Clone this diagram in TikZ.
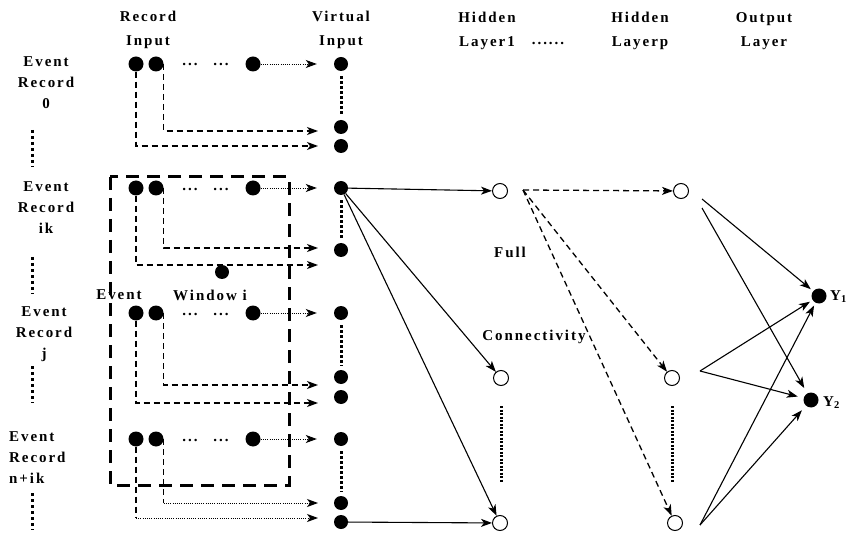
\documentclass[tikz,border=0pt]{standalone}
\usepackage{fontspec}
\setmainfont{Liberation Serif}[LetterSpace=13]
\usetikzlibrary{arrows.meta}
\begin{document}
\begin{tikzpicture}[x=1pt,y=-1pt,
  lbl/.style={font=\fontsize{15}{21}\selectfont\bfseries, inner sep=0pt, align=center},
  hdr/.style={font=\fontsize{15}{24}\selectfont\bfseries, inner sep=0pt, align=center},
  rdot/.style={circle,fill=black,inner sep=0pt,minimum size=15pt},
  vdot/.style={circle,fill=black,inner sep=0pt,minimum size=14pt},
  odot/.style={circle,draw=black,line width=1pt,fill=white,inner sep=0pt,minimum size=15pt},
  tip/.style={-{Stealth[length=11pt,width=8pt,inset=3pt]}},
  sline/.style={line width=1.1pt},
  dline/.style={line width=1.3pt,dash pattern=on 6pt off 4pt},
  tline/.style={line width=0.9pt,dash pattern=on 1pt off 1.2pt},
  vsep/.style={line width=3pt,dash pattern=on 2.5pt off 2.5pt},
  lsep/.style={line width=3pt,dash pattern=on 3pt off 3pt},
  hsep/.style={line width=3pt,dash pattern=on 2pt off 1.5pt},
  win/.style={line width=3pt,dash pattern=on 13pt off 8pt},
]
\useasboundingbox (0,0) rectangle (853,534);

% headers
\node[hdr] (hrec) at (148,30) {Record\\Input};
\node[hdr] (hvir) at (341,30) {Virtual\\Input};
\node[hdr] (hh1) at (487,31) {Hidden\\Layer1};
\node[hdr] (hdots) at (548,44) {......};
\node[hdr] (hhp) at (640,31) {Hidden\\Layerp};
\node[hdr] (hout) at (764,31) {Output\\Layer};

% left labels
\node[lbl] (la) at (46,83) {Event\\Record\\0};
\node[lbl] (lb) at (46,208) {Event\\Record\\ik};
\node[lbl] (lc) at (44,334) {Event\\Record\\j};
\node[lbl,align=left,anchor=west] (ld) at (9,458) {Event\\Record\\n+ik};
\draw[lsep] (32,130) -- (32,167);
\draw[lsep] (32,257) -- (32,294);
\draw[lsep] (32,366) -- (32,403);
\draw[lsep] (32,493) -- (32,530);

% event window
\draw[win] (110,177) rectangle (289,485);
\node[lbl] (ew1) at (119,295) {Event};
\node[lbl] (ew2) at (210,295) {Window i};

% record dots
\foreach \r/\y in {a/64,b/188,c/313,d/439}{
  \node[rdot] (r\r1) at (136,\y) {};
  \node[rdot] (r\r2) at (156,\y) {};
  \node[rdot] (r\r3) at (253,\y) {};
  \node[lbl] at (190,\y+1) {...};
  \node[lbl] at (221,\y+1) {...};
}

% virtual dots
\node[vdot] (va1) at (341,64) {};
\node[vdot] (va2) at (341,127) {};
\node[vdot] (va3) at (341,146) {};
\node[vdot] (vb1) at (341,188) {};
\node[vdot] (vb2) at (341,250) {};
\node[vdot] (vc1) at (341,313) {};
\node[vdot] (vc2) at (341,377) {};
\node[vdot] (vc3) at (341,397) {};
\node[vdot] (vd1) at (341,439) {};
\node[vdot] (vd2) at (341,503) {};
\node[vdot] (vd3) at (341,522) {};
\node[vdot] (stray) at (222,272) {};
\foreach \a/\b in {va1/va2,vb1/vb2,vc1/vc2,vd1/vd2}
  \draw[vsep,shorten <=5pt,shorten >=4pt] (\a) -- (\b);

% arrow ends
\coordinate (ea1) at (318,131); \coordinate (ea2) at (318,146);
\coordinate (eb1) at (318,248); \coordinate (eb2) at (318,265);
\coordinate (ec1) at (318,385); \coordinate (ec2) at (318,403);
\coordinate (ed1) at (318,503); \coordinate (ed2) at (318,518);

% dotted arrows from last record dot
\draw[tline,tip,shorten >=17pt] (ra3) -- (va1);
\draw[tline,tip,shorten >=17pt] (rb3) -- (vb1);
\draw[tline,tip,shorten >=17pt] (rc3) -- (vc1);
\draw[tline,tip,shorten >=17pt] (rd3) -- (vd1);

% dashed L connectors
\foreach \r in {a,b,c}{
  \draw[dline,tip] (r\r2.east) |- (e\r1);
  \draw[dline,tip] (r\r1.south) |- (e\r2);
}
\draw[dline] (rd2.east) -- (rd2.east |- ed1);
\draw[tline,tip] (rd2.east |- ed1) -- (ed1);
\draw[dline] (rd1.south) -- (rd1.south |- ed2);
\draw[tline,tip] (rd1.south |- ed2) -- (ed2);

% hidden layers
\node[odot] (h1a) at (500,191) {};
\node[odot] (h1b) at (501,378) {};
\node[odot] (h1c) at (500,523) {};
\node[odot] (hpa) at (681,191) {};
\node[odot] (hpb) at (672,378) {};
\node[odot] (hpc) at (675,523) {};
\draw[hsep,shorten <=20pt,shorten >=40pt] (h1b) -- (h1b |- h1c);
\draw[hsep,shorten <=20pt,shorten >=40pt] (hpb) -- (hpb |- hpc);

\node[lbl] (full) at (510,252) {Full};
\node[lbl] (conn) at (534,337) {Connectivity};

% input to hidden1
\draw[sline,tip] (vb1) -- (h1a);
\draw[sline,tip] (vb1) -- (h1b);
\draw[sline,tip] (vb1) -- (h1c);
\draw[sline,tip] (vd3) -- (h1c);

% hidden1 to hiddenp
\coordinate (hs) at (523,190);
\draw[dline,tip] (hs) -- (hpa);
\draw[dline,tip] (hs) -- (hpb);
\draw[dline,tip] (hs) -- (hpc);

% output
\node[vdot,minimum size=15pt] (y1) at (819,296) {};
\node[vdot,minimum size=15pt] (y2) at (811,400) {};
\node[lbl,anchor=west] (ly1) at (830,297) {Y\textsubscript{1}};
\node[lbl,anchor=west] (ly2) at (823,403) {Y\textsubscript{2}};

\draw[sline,tip,shorten >=3pt] ([shift={(21,8)}]hpa.center) -- (y1);
\draw[sline,tip,shorten >=6pt] ([shift={(21,17)}]hpa.center) -- (y2);
\draw[sline,tip,shorten >=3pt] ([shift={(28,-7)}]hpb.center) -- (y1);
\draw[sline,tip,shorten >=6pt] ([shift={(28,-7)}]hpb.center) -- (y2);
\draw[sline,tip,shorten >=3pt] ([shift={(25,2)}]hpc.center) -- (y1);
\draw[sline,tip,shorten >=6pt] ([shift={(25,2)}]hpc.center) -- (y2);
\end{tikzpicture}
\end{document}
